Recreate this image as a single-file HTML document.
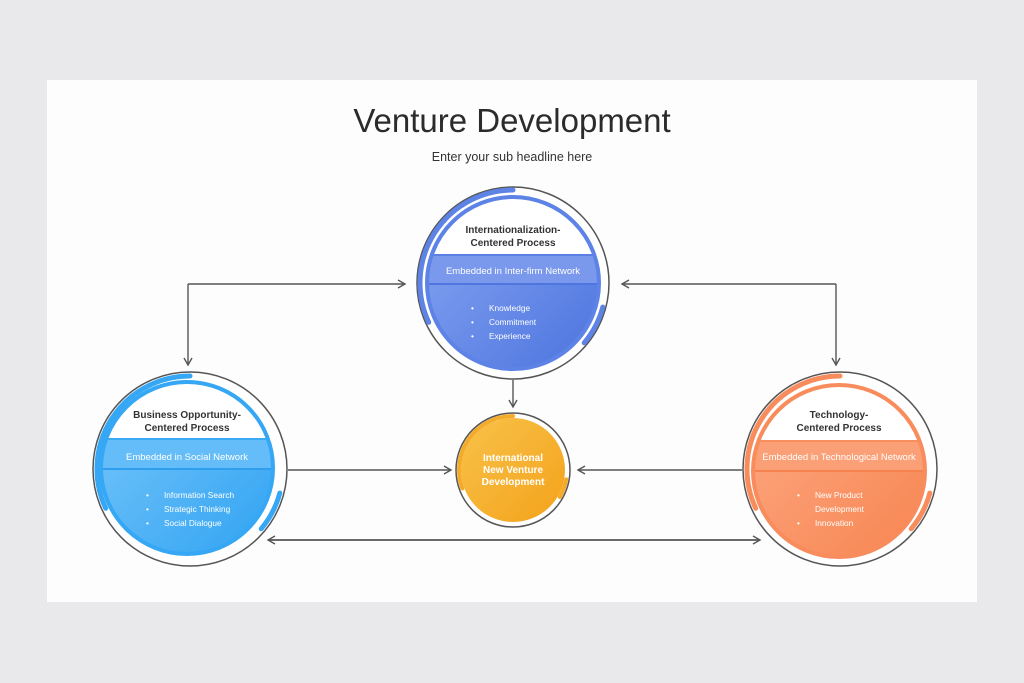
<!DOCTYPE html>
<html><head><meta charset="utf-8"><style>
html,body{margin:0;padding:0;background:#e9e8ea;}
body{width:1024px;height:683px;position:relative;overflow:hidden;font-family:"Liberation Sans",sans-serif;}
.card{position:absolute;left:47px;top:80px;width:930px;height:522px;background:#fdfdfd;}
svg{position:absolute;left:0;top:0;}
</style></head><body>
<div class="card"></div>
<svg width="1024" height="683" viewBox="0 0 1024 683">
<defs>
<linearGradient id="gb" x1="0" y1="0" x2="1" y2="1"><stop offset="0" stop-color="#8aa8f2"/><stop offset="1" stop-color="#4a72df"/></linearGradient>
<linearGradient id="gl" x1="0" y1="0" x2="1" y2="1"><stop offset="0" stop-color="#7cc8fa"/><stop offset="1" stop-color="#2ea2f2"/></linearGradient>
<linearGradient id="gr" x1="0" y1="0" x2="1" y2="1"><stop offset="0" stop-color="#fdaa85"/><stop offset="1" stop-color="#f7844f"/></linearGradient>
<linearGradient id="go" x1="0" y1="0" x2="1" y2="1"><stop offset="0" stop-color="#f8c24a"/><stop offset="1" stop-color="#f4a21a"/></linearGradient>
<clipPath id="ci"><circle cx="0" cy="0" r="86"/></clipPath>
<marker id="ah" markerWidth="10" markerHeight="10" refX="8" refY="5" orient="auto" markerUnits="userSpaceOnUse"><path d="M1,1 L8,5 L1,9" fill="none" stroke="#555" stroke-width="1.4"/></marker>
</defs>
<text x="512" y="132" text-anchor="middle" font-size="33" fill="#2b2b2b">Venture Development</text>
<text x="512" y="161" text-anchor="middle" font-size="12.5" fill="#333">Enter your sub headline here</text>

<g fill="none" stroke="#555" stroke-width="1.4">
<path d="M188,284 L188,365" marker-end="url(#ah)"/>
<path d="M188,284 L405,284" marker-end="url(#ah)"/>
<path d="M836,284 L836,365" marker-end="url(#ah)"/>
<path d="M836,284 L622,284" marker-end="url(#ah)"/>
<path d="M513,380 L513,407" marker-end="url(#ah)"/>
<path d="M288,470 L451,470" marker-end="url(#ah)"/>
<path d="M742,470 L578,470" marker-end="url(#ah)"/>
<path d="M268,540 L760,540" marker-end="url(#ah)"/>
<path d="M760,540 L268,540" marker-end="url(#ah)"/>
</g>

<g transform="translate(513,283)">
<circle r="96" fill="#fff" stroke="#555" stroke-width="1.5"/>
<g clip-path="url(#ci)">
<rect x="-90" y="-90" width="180" height="180" fill="url(#gb)"/>
<rect x="-90" y="-90" width="180" height="62" fill="#fff"/>
<rect x="-90" y="-28" width="180" height="29" fill="#7a99ec"/>
<line x1="-90" y1="1" x2="90" y2="1" stroke="#4f76df" stroke-width="2"/>
<line x1="-90" y1="-28" x2="90" y2="-28" stroke="#5a80e3" stroke-width="2"/>
</g>
<circle r="86" fill="none" stroke="#5d83e6" stroke-width="4"/>
<path d="M-84.3,39.3 A93,93 0 0 1 0,-93" fill="none" stroke="#5d83e6" stroke-width="5" stroke-linecap="round"/>
<path d="M89.8,24.1 A93,93 0 0 1 71.2,59.8" fill="none" stroke="#5d83e6" stroke-width="5" stroke-linecap="round"/>
<text y="-50" text-anchor="middle" font-size="10" font-weight="bold" fill="#333">Internationalization-</text>
<text y="-37" text-anchor="middle" font-size="10" font-weight="bold" fill="#333">Centered Process</text>
<text y="-9" text-anchor="middle" font-size="9.5" fill="#fff">Embedded in Inter-firm Network</text>
<g font-size="8.3" fill="#fff"><text x="-42" y="28">•</text><text x="-24" y="28">Knowledge</text><text x="-42" y="42">•</text><text x="-24" y="42">Commitment</text><text x="-42" y="56">•</text><text x="-24" y="56">Experience</text></g>
</g>

<g transform="translate(190,469)">
<circle r="97" fill="#fff" stroke="#555" stroke-width="1.5"/>
<g transform="translate(-3,-1)">
<g clip-path="url(#ci)">
<rect x="-90" y="-90" width="180" height="180" fill="url(#gl)"/>
<rect x="-90" y="-90" width="180" height="61" fill="#fff"/>
<rect x="-90" y="-29" width="180" height="30" fill="#64bdf8"/>
<line x1="-90" y1="1" x2="90" y2="1" stroke="#2e9fef" stroke-width="2"/>
<line x1="-90" y1="-29" x2="90" y2="-29" stroke="#3daaf4" stroke-width="2"/>
</g>
<circle r="86" fill="none" stroke="#35a7f4" stroke-width="4"/>
</g>
<path d="M-84.3,39.3 A93,93 0 0 1 0,-93" fill="none" stroke="#35a7f4" stroke-width="5" stroke-linecap="round"/>
<path d="M89.8,24.1 A93,93 0 0 1 71.2,59.8" fill="none" stroke="#35a7f4" stroke-width="5" stroke-linecap="round"/>
<text x="-3" y="-51" text-anchor="middle" font-size="10" font-weight="bold" fill="#333">Business Opportunity-</text>
<text x="-3" y="-38" text-anchor="middle" font-size="10" font-weight="bold" fill="#333">Centered Process</text>
<text x="-3" y="-9" text-anchor="middle" font-size="9.5" fill="#fff">Embedded in Social Network</text>
<g font-size="8.3" fill="#fff"><text x="-44" y="29">•</text><text x="-26" y="29">Information Search</text><text x="-44" y="43">•</text><text x="-26" y="43">Strategic Thinking</text><text x="-44" y="57">•</text><text x="-26" y="57">Social Dialogue</text></g>
</g>

<g transform="translate(840,469)">
<circle r="97" fill="#fff" stroke="#555" stroke-width="1.5"/>
<g transform="translate(-1,2)">
<g clip-path="url(#ci)">
<rect x="-90" y="-90" width="180" height="180" fill="url(#gr)"/>
<rect x="-90" y="-90" width="180" height="60" fill="#fff"/>
<rect x="-90" y="-30" width="180" height="30" fill="#fb9f76"/>
<line x1="-90" y1="0" x2="90" y2="0" stroke="#f6834f" stroke-width="2"/>
<line x1="-90" y1="-30" x2="90" y2="-30" stroke="#f88d5e" stroke-width="2"/>
</g>
<circle r="86" fill="none" stroke="#f88c5c" stroke-width="4"/>
</g>
<path d="M-84.3,39.3 A93,93 0 0 1 0,-93" fill="none" stroke="#f88c5c" stroke-width="5" stroke-linecap="round"/>
<path d="M89.8,24.1 A93,93 0 0 1 71.2,59.8" fill="none" stroke="#f88c5c" stroke-width="5" stroke-linecap="round"/>
<text x="-1" y="-51" text-anchor="middle" font-size="10" font-weight="bold" fill="#333">Technology-</text>
<text x="-1" y="-38" text-anchor="middle" font-size="10" font-weight="bold" fill="#333">Centered Process</text>
<text x="-1" y="-9" text-anchor="middle" font-size="9.5" fill="#fff">Embedded in Technological Network</text>
<g font-size="8.3" fill="#fff"><text x="-43" y="29">•</text><text x="-25" y="29">New Product</text><text x="-25" y="43">Development</text><text x="-43" y="57">•</text><text x="-25" y="57">Innovation</text></g>
</g>

<g transform="translate(513,470)">
<circle r="57" fill="#fff" stroke="#555" stroke-width="1.5"/>
<circle r="52" fill="url(#go)"/>
<path d="M-50.7,18.5 A54,54 0 0 1 0,-54" fill="none" stroke="#f5ab2a" stroke-width="4" stroke-linecap="round"/>
<path d="M53.2,9.4 A54,54 0 0 1 46.8,27" fill="none" stroke="#f5ab2a" stroke-width="4" stroke-linecap="round"/>
<g font-size="10" font-weight="bold" fill="#fff" text-anchor="middle">
<text y="-9">International</text><text y="3">New Venture</text><text y="15">Development</text></g>
</g>
</svg>
</body></html>
